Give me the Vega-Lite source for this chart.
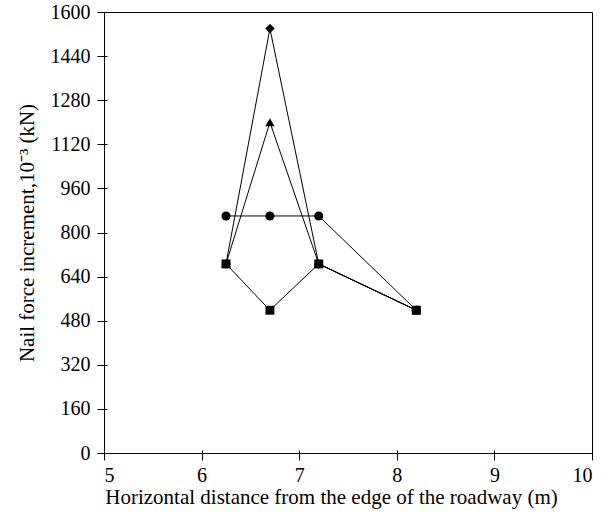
{
  "$schema": "https://vega.github.io/schema/vega-lite/v6.json",
  "autosize": "none",
  "width": 488,
  "height": 441,
  "padding": {"left": 104, "top": 12, "right": 19, "bottom": 64},
  "background": "white",
  "config": {
    "font": "Liberation Serif",
    "view": {"stroke": "black", "strokeWidth": 1},
    "axis": {
      "domainColor": "black",
      "tickColor": "black",
      "labelColor": "black",
      "titleColor": "black",
      "labelFont": "Liberation Serif",
      "labelFontSize": 20,
      "titleFont": "Liberation Serif",
      "titleFontSize": 21,
      "titleFontWeight": "normal",
      "grid": false,
      "tickSize": 7
    }
  },
  "data": {
    "values": [
      {"series": "Diamond", "x": 6.25, "y": 686},
      {"series": "Diamond", "x": 6.7, "y": 1540},
      {"series": "Diamond", "x": 7.2, "y": 686},
      {"series": "Diamond", "x": 8.2, "y": 518},
      {"series": "Triangle", "x": 6.25, "y": 686},
      {"series": "Triangle", "x": 6.7, "y": 1200},
      {"series": "Triangle", "x": 7.2, "y": 686},
      {"series": "Triangle", "x": 8.2, "y": 518},
      {"series": "Circle", "x": 6.25, "y": 860},
      {"series": "Circle", "x": 6.7, "y": 860},
      {"series": "Circle", "x": 7.2, "y": 860},
      {"series": "Circle", "x": 8.2, "y": 518},
      {"series": "Square", "x": 6.25, "y": 686},
      {"series": "Square", "x": 6.7, "y": 518},
      {"series": "Square", "x": 7.2, "y": 686},
      {"series": "Square", "x": 8.2, "y": 518}
    ]
  },
  "resolve": {"axis": {"x": "independent", "y": "independent"}},
  "layer": [
    {
      "mark": {"type": "line", "color": "black", "strokeWidth": 1},
      "encoding": {
        "x": {
          "field": "x",
          "type": "quantitative",
          "scale": {"domain": [5, 10], "nice": false, "zero": false},
          "axis": {
            "orient": "bottom",
            "values": [5, 6, 7, 8, 9, 10],
            "format": "d",
            "title": "Horizontal distance from the edge of the roadway (m)",
            "titleX": 227,
            "labelPadding": 5,
            "titlePadding": 1
          }
        },
        "y": {
          "field": "y",
          "type": "quantitative",
          "scale": {"domain": [0, 1600], "nice": false},
          "axis": {
            "orient": "left",
            "values": [0, 160, 320, 480, 640, 800, 960, 1120, 1280, 1440, 1600],
            "format": "d",
            "title": "Nail force increment,10⁻³ (kN)",
            "labelPadding": 7,
            "titlePadding": 13
          }
        },
        "detail": {"field": "series"},
        "order": {"field": "x"}
      }
    },
    {
      "mark": {"type": "point", "filled": true, "color": "black", "opacity": 1},
      "encoding": {
        "x": {
          "field": "x",
          "type": "quantitative",
          "axis": {
            "orient": "top",
            "offset": -441,
            "values": [5, 6, 7, 8, 9, 10],
            "labels": false,
            "domain": false,
            "title": null,
            "tickSize": 3
          }
        },
        "y": {
          "field": "y",
          "type": "quantitative",
          "axis": {
            "orient": "right",
            "offset": -488,
            "values": [0, 160, 320, 480, 640, 800, 960, 1120, 1280, 1440, 1600],
            "labels": false,
            "domain": false,
            "title": null,
            "tickSize": 3
          }
        },
        "shape": {
          "field": "series",
          "scale": {
            "domain": ["Diamond", "Triangle", "Circle", "Square"],
            "range": ["diamond", "triangle-up", "circle", "square"]
          },
          "legend": null
        },
        "size": {
          "field": "series",
          "scale": {
            "domain": ["Diamond", "Triangle", "Circle", "Square"],
            "range": [90, 80, 80, 100]
          },
          "legend": null
        }
      }
    }
  ]
}
